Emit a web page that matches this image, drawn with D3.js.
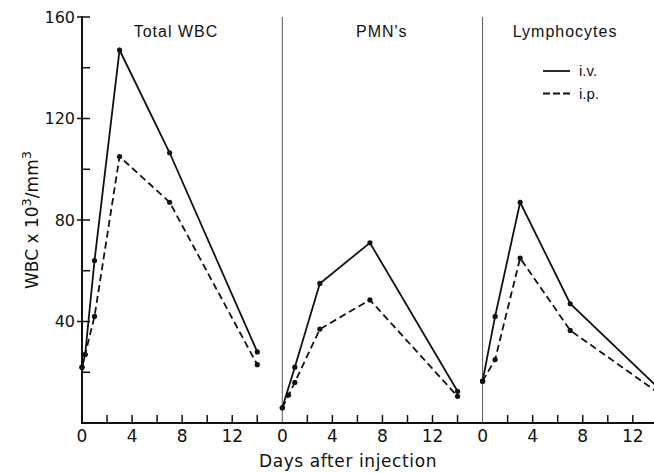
<!DOCTYPE html>
<html>
<head>
<meta charset="utf-8">
<script src="https://cdn.jsdelivr.net/npm/d3@7"></script>
<style>
  html, body { margin: 0; padding: 0; background: #fff; }
  svg { display: block; }
</style>
</head>
<body>
<svg id="chart" width="654" height="473"></svg>
<script>
// ---- data ----
const panelTitles = ["Total WBC", "PMN's", "Lymphocytes"];
const seriesNames = ["i.v.", "i.p."];
const yTicksMajor = [40, 80, 120, 160];
const yTicksMinor = [20, 60, 100, 140];
const xTickLabels = [0, 4, 8, 12];
const xTicksMinor = [2, 4, 6, 8, 10, 12, 14];

// Total WBC
const wbcDaysIV = [0, 0.25, 1, 3, 7, 14];
const wbcIV     = [22, 27, 64, 147, 106.5, 28];
const wbcDaysIP = [0, 0.25, 1, 3, 7, 14];
const wbcIP     = [22, 27, 42, 105, 87, 23];
// PMN's
const pmnDaysIV = [0, 1, 3, 7, 14];
const pmnIV     = [6, 22, 55, 71, 12.5];
const pmnDaysIP = [0, 0.5, 1, 3, 7, 14];
const pmnIP     = [6, 11, 16, 37, 48.5, 10.5];
// Lymphocytes
const lymDaysIV = [0, 1, 3, 7, 14];
const lymIV     = [16.5, 42, 87, 47, 14];
const lymDaysIP = [0, 1, 3, 7, 14];
const lymIP     = [16.5, 25, 65, 36.5, 12];

const panelData = [
  { iv: wbcDaysIV.map((d, i) => [d, wbcIV[i]]), ip: wbcDaysIP.map((d, i) => [d, wbcIP[i]]) },
  { iv: pmnDaysIV.map((d, i) => [d, pmnIV[i]]), ip: pmnDaysIP.map((d, i) => [d, pmnIP[i]]) },
  { iv: lymDaysIV.map((d, i) => [d, lymIV[i]]), ip: lymDaysIP.map((d, i) => [d, lymIP[i]]) }
];

// ---- layout ----
const svg = d3.select("#chart");
const W = 654, H = 473;
const plotLeft = 82, plotTop = 17, plotBottom = 423;
const panelW = 200.3;

const y = d3.scaleLinear().domain([0, 160]).range([plotBottom, plotTop]);
const x = d3.scaleLinear().domain([0, 16]).range([0, panelW]);

const ink = "#111";
const numFont = "DejaVu Sans, sans-serif";
const titleFont = "Liberation Sans, Arial, sans-serif";

// left axis
svg.append("line").attr("x1", plotLeft).attr("x2", plotLeft).attr("y1", plotTop - 1).attr("y2", plotBottom)
  .attr("stroke", ink).attr("stroke-width", 2);
// bottom axis
svg.append("line").attr("x1", plotLeft - 1).attr("x2", W).attr("y1", plotBottom).attr("y2", plotBottom)
  .attr("stroke", ink).attr("stroke-width", 2);

// y ticks
yTicksMajor.forEach(v => {
  svg.append("line").attr("x1", plotLeft - 5).attr("x2", plotLeft + 8)
    .attr("y1", y(v)).attr("y2", y(v)).attr("stroke", ink).attr("stroke-width", 1.5);
  svg.append("text").attr("x", plotLeft - 7).attr("y", y(v)).attr("dy", "0.36em")
    .attr("text-anchor", "end").attr("font-family", numFont).attr("font-size", 16)
    .attr("fill", ink).text(v);
});
yTicksMinor.forEach(v => {
  svg.append("line").attr("x1", plotLeft).attr("x2", plotLeft + 8)
    .attr("y1", y(v)).attr("y2", y(v)).attr("stroke", ink).attr("stroke-width", 1.5);
});

// y axis title
const yt = svg.append("text")
  .attr("transform", `translate(38, ${y(80)}) rotate(-90)`)
  .attr("text-anchor", "middle")
  .attr("font-family", numFont).attr("font-size", 17).attr("fill", ink);
yt.append("tspan").text("WBC x 10");
yt.append("tspan").attr("baseline-shift", "super").attr("font-size", 13).text("3");
yt.append("tspan").text("/mm");
yt.append("tspan").attr("baseline-shift", "super").attr("font-size", 13).text("3");

const lineGen = d3.line().x(d => x(d[0])).y(d => y(d[1]));

panelData.forEach((pd, p) => {
  const g = svg.append("g").attr("transform", `translate(${plotLeft + p * panelW}, 0)`);

  if (p > 0) {
    g.append("line").attr("x1", 0).attr("x2", 0).attr("y1", plotTop).attr("y2", plotBottom)
      .attr("stroke", "#555").attr("stroke-width", 1);
  }
  xTicksMinor.forEach(d => {
    g.append("line").attr("x1", x(d)).attr("x2", x(d)).attr("y1", plotBottom).attr("y2", plotBottom - 8)
      .attr("stroke", ink).attr("stroke-width", 1.5);
  });
  xTickLabels.forEach(d => {
    g.append("text").attr("x", x(d)).attr("y", 442).attr("text-anchor", "middle")
      .attr("font-family", numFont).attr("font-size", 17).attr("fill", ink).text(d);
  });
  g.append("text").attr("x", [94, 99.5, 82.5][p]).attr("y", 37).attr("text-anchor", "middle")
    .attr("font-family", titleFont).attr("font-size", 16).attr("letter-spacing", 1)
    .attr("fill", ink).text(panelTitles[p]);

  g.append("path").datum(pd.iv).attr("d", lineGen).attr("fill", "none")
    .attr("stroke", ink).attr("stroke-width", 1.8);
  g.append("path").datum(pd.ip).attr("d", lineGen).attr("fill", "none")
    .attr("stroke", ink).attr("stroke-width", 1.8).attr("stroke-dasharray", "7,4");
  [pd.iv, pd.ip].forEach(s => {
    g.selectAll(null).data(s).enter().append("circle")
      .attr("cx", d => x(d[0])).attr("cy", d => y(d[1])).attr("r", 2.6).attr("fill", ink);
  });
});

// x axis title
svg.append("text").attr("x", 348).attr("y", 467).attr("text-anchor", "middle")
  .attr("font-family", numFont).attr("font-size", 17).attr("letter-spacing", 0.6)
  .attr("fill", ink).text("Days after injection");

// legend
const lg = svg.append("g");
[0, 1].forEach(i => {
  const ly = 71 + i * 22.5;
  lg.append("line").attr("x1", 543).attr("x2", 570).attr("y1", ly).attr("y2", ly)
    .attr("stroke", ink).attr("stroke-width", 1.8)
    .attr("stroke-dasharray", i === 1 ? "7,3" : null);
  lg.append("text").attr("x", 579).attr("y", ly).attr("dy", "0.35em")
    .attr("font-family", titleFont).attr("font-size", 15).attr("fill", ink)
    .text(seriesNames[i]);
});
</script>
</body>
</html>
